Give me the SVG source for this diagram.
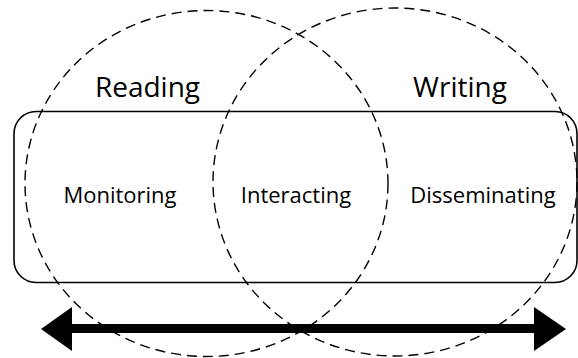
<svg xmlns="http://www.w3.org/2000/svg" width="578" height="358" viewBox="0 0 578 358">
<style>
.circ{fill:none;stroke:#000;stroke-width:1.4;stroke-dasharray:10 6}
.box{fill:none;stroke:#000;stroke-width:1.6}
.big{font-family:"Open Sans","Liberation Sans",sans-serif;font-size:28px;fill:#000;text-anchor:middle}
.sm{font-family:"Open Sans","Liberation Sans",sans-serif;font-size:22px;fill:#000;text-anchor:middle}
</style>
<rect width="578" height="358" fill="#fff"/>
<g id="activities">
<rect class="box" x="14" y="111.5" width="563" height="171" rx="22" ry="22"/>
<text class="sm" x="120" y="203">Monitoring</text>
<text class="sm" x="296" y="203">Interacting</text>
<text class="sm" x="483" y="203">Disseminating</text>
</g>
<g id="reading">
<ellipse class="circ" cx="206.5" cy="183.5" rx="181.5" ry="173"/>
<text class="big" x="147.5" y="97">Reading</text>
</g>
<g id="writing">
<ellipse class="circ" cx="395" cy="182" rx="182" ry="174"/>
<text class="big" x="460" y="97">Writing</text>
</g>
<g id="connectors">
<rect x="70" y="324" width="466" height="9" fill="#000"/>
<polygon points="41,329 72,307 72,351" fill="#000"/>
<polygon points="566,329 534,307 534,351" fill="#000"/>
</g>
</svg>
